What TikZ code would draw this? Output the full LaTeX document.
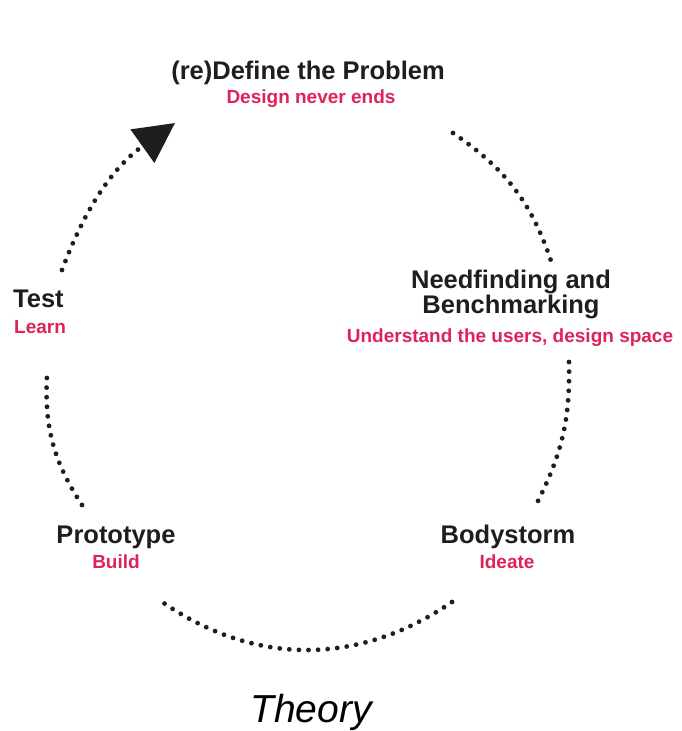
\documentclass[tikz,border=0pt]{standalone}
\usepackage{fontspec}
\setmainfont{Liberation Sans}
\usetikzlibrary{arrows.meta}
\definecolor{ink}{RGB}{30,30,30}
\definecolor{accent}{RGB}{220,36,88}
\tikzset{
  x=1pt, y=1pt,
  stage/.style={inner sep=0pt, text=ink, font=\fontsize{25.5}{25}\selectfont\bfseries},
  hint/.style={inner sep=0pt, text=accent, font=\fontsize{19}{22}\selectfont\bfseries},
  dotline/.style={draw=ink, line width=4.8pt, line cap=round, dash pattern=on 0pt off 9.6pt},
  bigtip/.style={-{Triangle[length=40pt,width=40pt]}}
}
\begin{document}
\begin{tikzpicture}
\useasboundingbox[fill=white] (0,0) rectangle (682,-731);

% stage labels
\node[stage, anchor=base] (problem) at (308,-79) {(re)Define the Problem};
\node[hint, anchor=base] (problem-sub) at (311,-103) {Design never ends};

\node[stage, anchor=base, align=center] (need) at (511,-313) {Needfinding and\\Benchmarking};
\node[hint, anchor=base] (need-sub) at (510,-342) {Understand the users, design space};

\node[stage, anchor=base] (body) at (508,-543) {Bodystorm};
\node[hint, anchor=base] (body-sub) at (507,-568) {Ideate};

\node[stage, anchor=base] (proto) at (116,-543) {Prototype};
\node[hint, anchor=base] (proto-sub) at (116,-568) {Build};

\node[stage, anchor=base west] (test) at (13,-307) {Test};
\node[hint, anchor=base west] (test-sub) at (14,-333) {Learn};

\node[inner sep=0pt, text=black, anchor=base, font=\fontsize{39}{40}\selectfont\itshape] (theory) at (311,-722) {Theory};

% ends of the dotted arcs
\coordinate (problem-out) at (453,-133);
\coordinate (need-in)     at (553,-267);
\coordinate (need-out)    at (569,-362);
\coordinate (body-in)     at (537,-503);
\coordinate (body-out)    at (452,-602);
\coordinate (proto-in)    at (158,-599);
\coordinate (proto-out)   at (82,-505);
\coordinate (test-in)     at (47,-375);
\coordinate (test-out)    at (62,-270);
\coordinate (problem-in)  at (175,-123);

% the cycle, clockwise
\draw[dotline] (problem-out) to[bend left=19] (need-in);
\draw[dotline] (need-out) to[bend left=14] (body-in);
\draw[dotline] (body-out) to[bend left=35] (proto-in);
\draw[dotline] (proto-out) to[bend left=18] (test-in);
\draw[dotline, bigtip] (test-out) to[bend left=17] (problem-in);
\end{tikzpicture}
\end{document}
